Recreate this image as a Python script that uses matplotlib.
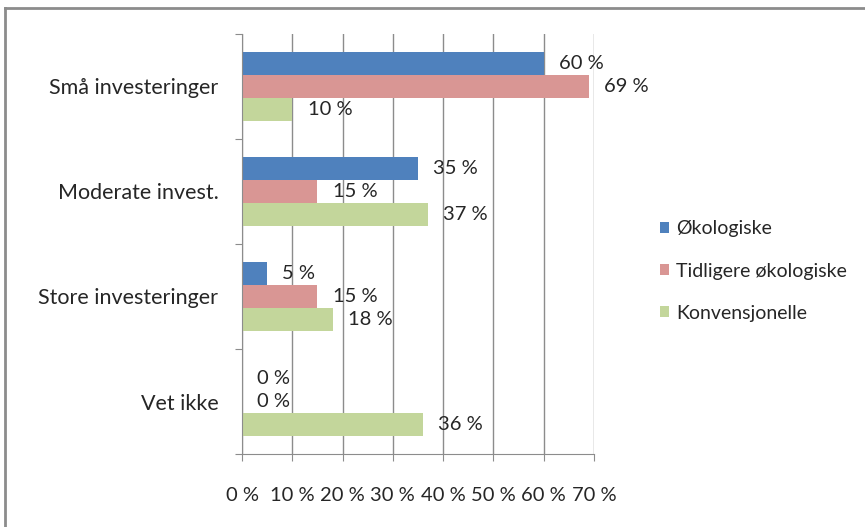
import matplotlib

matplotlib.use("Agg")
import matplotlib.pyplot as plt
from matplotlib.lines import Line2D
from matplotlib.patches import Patch

# ---- data ------------------------------------------------------------------
categories = ["Små investeringer", "Moderate invest.", "Store investeringer", "Vet ikke"]
series_names = ["Økologiske", "Tidligere økologiske", "Konvensjonelle"]
okologiske = [60, 35, 5, 0]
tidligere = [69, 15, 15, 0]
konvensjonelle = [10, 37, 18, 36]
x_ticks = [0, 10, 20, 30, 40, 50, 60, 70]

COLORS = ["#4f81bd", "#d99694", "#c3d69b"]
GRID = "#8c8c8c"
TXT = "#262626"

plt.rcParams["font.family"] = ["Lato", "DejaVu Sans"]

fig = plt.figure(figsize=(8.65, 5.27), dpi=100)
ax = fig.add_axes([242 / 865, 1 - 454 / 527, 352 / 865, 420 / 527])

bh = 0.219
offsets = [-bh, 0, bh]
ypos = list(range(len(categories)))
for vals, off, col, name in zip([okologiske, tidligere, konvensjonelle],
                                offsets, COLORS, series_names):
    ys = [y + off for y in ypos]
    ax.barh(ys, vals, height=bh, color=col, edgecolor="none", zorder=2, label=name)
    for y, v in zip(ys, vals):
        ax.annotate(f"{v} %", (v, y), xytext=(11, 0), textcoords="offset points",
                    ha="left", va="center", fontsize=14.5, color=TXT, zorder=3)

ax.set_xlim(0, 70)
ax.set_ylim(len(categories) - 0.5, -0.5)
ax.set_xticks(x_ticks)
ax.set_xticklabels([f"{t} %" for t in x_ticks], fontsize=14.5, color=TXT)
ax.set_yticks([i - 0.5 for i in range(len(categories) + 1)])
ax.set_yticklabels([])
ax.set_yticks(ypos, minor=True)
ax.set_yticklabels(categories, minor=True, fontsize=15.5, color=TXT)
ax.tick_params(axis="y", which="minor", length=0, pad=17)
ax.tick_params(axis="y", which="major", length=5, color=GRID)
ax.tick_params(axis="x", length=5, color=GRID, pad=19)
ax.xaxis.grid(True, color=GRID, linewidth=1.0, zorder=0)
ax.set_axisbelow(True)
for s in ["top", "right"]:
    ax.spines[s].set_visible(False)
for s in ["left", "bottom"]:
    ax.spines[s].set_color(GRID)

handles = [Patch(facecolor=c, edgecolor="none") for c in COLORS]
fig.legend(handles, series_names, loc="center left", bbox_to_anchor=(642 / 865, 1 - 271 / 527),
           frameon=False, fontsize=14, handlelength=0.5, handleheight=0.5,
           labelspacing=1.3, handletextpad=0.35, labelcolor=TXT)

# outer border (left and top edges visible)
fig.add_artist(Line2D([5 / 865, 5 / 865], [0, 1 - 8 / 527], transform=fig.transFigure,
                      color="#8c8c8c", linewidth=2))
fig.add_artist(Line2D([5 / 865, 1], [1 - 8 / 527, 1 - 8 / 527], transform=fig.transFigure,
                      color="#8c8c8c", linewidth=2))

fig.savefig("out.png", dpi=100)
